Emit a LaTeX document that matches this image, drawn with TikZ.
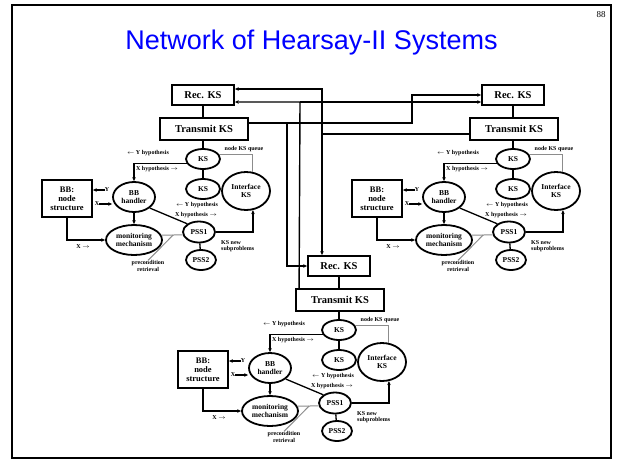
\documentclass[tikz,border=0pt]{standalone}
\usepackage{fontspec}
\setmainfont{Liberation Serif}
\newfontfamily\titlefont{Liberation Sans}
\usetikzlibrary{shapes.geometric,arrows.meta,calc}

\tikzset{
  box/.style={draw,line width=1.8pt,inner sep=0pt,font=\bfseries\fontsize{10.5}{11}\selectfont},
  oval/.style={draw,ellipse,line width=1.8pt,inner sep=0pt,align=center,font=\bfseries\fontsize{7.5}{8}\selectfont},
  conn/.style={line width=1.3pt},
  gconn/.style={draw=black!45,line width=1pt},
  net/.style={line width=1.4pt},
  lab/.style={inner sep=0pt,align=center,font=\bfseries\fontsize{6}{6.5}\selectfont},
  tip/.style={-{Stealth[length=4pt,width=3.5pt]}},
  tipback/.style={{Stealth[length=4pt,width=3.5pt]}-},
}

% one Hearsay-II node: #1 name prefix, (#2,#3) offset
\newcommand\hsmodule[3]{%
\begin{scope}[shift={(#2,#3)}]
  \node[box,minimum width=62pt,minimum height=20pt] (#1rec) at (203,95) {Rec. KS};
  \node[box,minimum width=88pt,minimum height=22pt] (#1trans) at (204,129) {Transmit KS};
  \node[oval,minimum width=34pt,minimum height=20pt] (#1ksa) at (203,159) {KS};
  \node[oval,minimum width=34pt,minimum height=20pt] (#1ksb) at (203,189) {KS};
  \node[oval,minimum width=48pt,minimum height=38pt] (#1iface) at (246,191) {Interface\\KS};
  \node[box,align=center,minimum width=50pt,minimum height=37pt,font=\bfseries\fontsize{8.5}{9}\selectfont] (#1bb) at (67,198.5) {BB:\\node\\structure};
  \node[oval,minimum width=42pt,minimum height=30pt] (#1bbh) at (134,197) {BB\\handler};
  \node[oval,minimum width=56pt,minimum height=30pt] (#1mon) at (134,240) {monitoring\\mechanism};
  \node[oval,minimum width=32pt,minimum height=21pt] (#1pssa) at (199,232) {PSS1};
  \node[oval,minimum width=30pt,minimum height=20pt] (#1pssb) at (201,260) {PSS2};
  % labels
  \node[lab] (#1lya) at (148,153) {$\leftarrow$ Y hypothesis};
  \node[lab] (#1lxa) at (157,169) {X hypothesis $\rightarrow$};
  \node[lab] (#1lq) at (244,149) {node KS queue};
  \node[lab] (#1lyb) at (197,205) {$\leftarrow$ Y hypothesis};
  \node[lab] (#1lxb) at (196,215) {X hypothesis $\rightarrow$};
  \node[lab,anchor=west,align=left] (#1lsub) at (221,246) {KS new\\subproblems};
  \node[lab] (#1lret) at (148,266) {precondition\\retrieval};
  \node[lab] (#1ly) at (107,190) {Y};
  \node[lab] (#1lx) at (97,204) {X};
  \node[lab] (#1lxm) at (83,247) {X $\rightarrow$};
  % connectors
  \draw[conn] (#1rec.south) -- (#1rec.south |- #1trans.north);
  \draw[conn] (#1ksa.north |- #1trans.south) -- (#1ksa.north);
  \draw[conn] (#1ksa) -- (#1ksb);
  \draw[conn,tipback] (#1bbh.north) |- (#1ksa.195);
  \draw[gconn] (#1ksa.15) -| (#1iface.70);
  \draw[conn,tip] (#1pssa.east) -| (#1iface.290);
  \draw[conn] (#1pssa) -- (#1pssb);
  \draw[conn] (#1bbh.-35) -- (#1pssa.145);
  \draw[conn,tip] (#1bbh.south) -- (#1mon.north);
  \draw[conn,tip] (#1bb.south) |- (#1mon.west);
  \draw[conn,tip] (#1ly.west) -- (#1ly.west -| #1bb.east);
  \draw[conn,tip] (#1lx.east) -- (#1lx.east -| #1bbh.west);
  \draw[gconn] (#1mon.10) -- (#1pssa.190);
  \coordinate (#1gm) at ($(#1mon.10)!0.55!(#1pssa.190)$);
  \draw[gconn] (#1gm) -- (#1lret.north);
\end{scope}}

\begin{document}
\begin{tikzpicture}[x=1pt,y=-1pt]
  \useasboundingbox (0,0) rectangle (623,464);
  \draw[line width=2pt] (12,5) rectangle (611,458);
  \node[font=\fontsize{9}{10}\selectfont] (pg) at (601,15) {88};
  \node[font=\titlefont\fontsize{27}{30}\selectfont,text=blue] (title) at (311.5,43) {Network of Hearsay-II Systems};

  \hsmodule{L}{0}{0}
  \hsmodule{R}{310}{0}
  \hsmodule{B}{136}{171}

  % links between the three nodes
  \coordinate (p1a) at (412,123);
  \coordinate (p1c) at (287,123);
  \coordinate (p2a) at (322,134);
  \coordinate (p2t) at (322,89);
  \coordinate (p3t) at (300,102);
  \draw[net,tip] ([yshift=6pt]Ltrans.east) -- (p1a) |- (Rrec.west);
  \draw[net,tip] (p1c) |- (Brec.west);
  \draw[net] ([yshift=-5pt]Rtrans.west) -- (p2a);
  \draw[net,tip] (p2a) -- (p2t) -- ([yshift=6pt]Lrec.east);
  \draw[net,tip] (p2a) -- (p2a |- Brec.north);
  \draw[net,tip] ([xshift=4pt]Btrans.north west) -- (p3t) -- ([yshift=-7pt]Lrec.east);
  \draw[net,tip] (p3t) -- ([yshift=-7pt]Rrec.west);
\end{tikzpicture}
\end{document}
